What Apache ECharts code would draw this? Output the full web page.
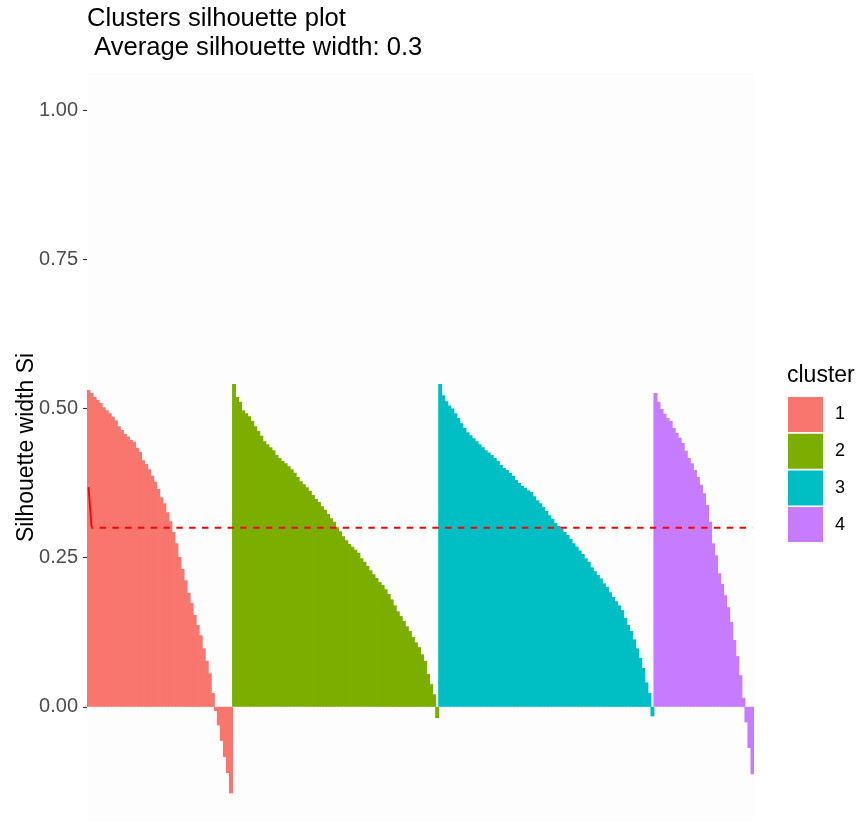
<!DOCTYPE html>
<html>
<head>
<meta charset="utf-8">
<script src="https://cdn.jsdelivr.net/npm/echarts@6/dist/echarts.min.js"></script>
<style>
html,body{margin:0;padding:0;background:#ffffff;}
#chart{width:861px;height:825px;}
</style>
</head>
<body>
<div id="chart"></div>
<script>
// Silhouette widths, sorted within each cluster
const cluster1 = [0.531,0.526,0.519,0.514,0.509,0.502,0.497,0.492,0.486,0.480,
  0.470,0.464,0.457,0.453,0.447,0.444,0.434,0.427,0.413,0.407,
  0.398,0.387,0.377,0.365,0.351,0.341,0.326,0.311,0.293,0.274,
  0.251,0.231,0.212,0.191,0.174,0.154,0.137,0.120,0.098,0.077,
  0.056,0.023,-0.007,-0.031,-0.057,-0.084,-0.111,-0.145];
const cluster2 = [0.541,0.519,0.511,0.497,0.492,0.487,0.479,0.470,0.462,0.454,
  0.445,0.440,0.435,0.430,0.422,0.417,0.412,0.408,0.403,0.398,
  0.392,0.385,0.378,0.373,0.368,0.362,0.355,0.348,0.343,0.336,
  0.330,0.323,0.316,0.310,0.301,0.294,0.286,0.279,0.273,0.268,
  0.263,0.258,0.249,0.243,0.236,0.229,0.222,0.216,0.209,0.204,
  0.197,0.189,0.180,0.170,0.160,0.152,0.144,0.135,0.127,0.117,
  0.108,0.100,0.088,0.077,0.055,0.038,0.021,-0.019];
const cluster3 = [0.541,0.522,0.512,0.505,0.500,0.492,0.484,0.475,0.467,0.460,
  0.455,0.450,0.445,0.440,0.435,0.430,0.426,0.422,0.417,0.412,
  0.405,0.400,0.397,0.392,0.387,0.380,0.375,0.370,0.367,0.363,
  0.360,0.353,0.346,0.341,0.335,0.328,0.321,0.315,0.308,0.303,
  0.298,0.293,0.288,0.281,0.274,0.268,0.262,0.256,0.249,0.243,
  0.234,0.227,0.221,0.215,0.207,0.201,0.192,0.184,0.177,0.170,
  0.162,0.149,0.137,0.127,0.113,0.098,0.082,0.065,0.041,0.023,
  -0.016];
const cluster4 = [0.526,0.511,0.499,0.491,0.484,0.479,0.467,0.459,0.451,0.442,
  0.429,0.417,0.408,0.397,0.385,0.372,0.358,0.338,0.310,0.274,
  0.254,0.224,0.206,0.187,0.167,0.142,0.112,0.085,0.053,0.015,
  -0.026,-0.069,-0.113];

const clusterNames = ['1', '2', '3', '4'];
const clusterColors = ['#F8766D', '#7CAE00', '#00BFC4', '#C77CFF'];
const averageWidth = 0.3;
const leadSegment = [0.368, 0.301];
const yTickValues = [0, 0.25, 0.5, 0.75, 1.0];
const yTickLabels = ['0.00', '0.25', '0.50', '0.75', '1.00'];
const titleText = 'Clusters silhouette plot\n Average silhouette width: 0.3';
const yAxisTitle = 'Silhouette width Si';
const legendTitle = 'cluster';

const clusters = [cluster1, cluster2, cluster3, cluster4];
const total = clusters.reduce((s, c) => s + c.length, 0);
const categories = [];
for (let i = 0; i < total; i++) categories.push(String(i + 1));

const FONT = "'Liberation Sans', Arial, Helvetica, sans-serif";

const barSeries = [];
let offset = 0;
clusters.forEach((vals, ci) => {
  const data = new Array(total).fill(null);
  vals.forEach((v, k) => { data[offset + k] = v; });
  offset += vals.length;
  barSeries.push({
    name: clusterNames[ci],
    type: 'bar',
    data: data,
    barWidth: 4,
    barGap: '-100%',
    itemStyle: { color: clusterColors[ci], borderWidth: 0 },
    silent: true
  });
});

const leadData = new Array(total).fill(null);
leadData[0] = leadSegment[0];
leadData[1] = leadSegment[1];
const avgData = new Array(total).fill(null);
for (let i = 1; i < total; i++) avgData[i] = averageWidth;

const chart = echarts.init(document.getElementById('chart'), null, { renderer: 'canvas' });
chart.setOption({
  animation: false,
  backgroundColor: '#ffffff',
  textStyle: { fontFamily: FONT },
  title: [
    {
      text: titleText,
      left: 87, top: 5, padding: 0,
      textStyle: { fontFamily: FONT, fontSize: 25.6, fontWeight: 'normal', color: '#000000', lineHeight: 28.4 }
    },
    {
      text: legendTitle,
      left: 787, top: 364, padding: 0,
      textStyle: { fontFamily: FONT, fontSize: 23, fontWeight: 'normal', color: '#000000', lineHeight: 23 }
    }
  ],
  legend: {
    data: clusterNames,
    orient: 'vertical',
    left: 788, top: 397,
    padding: 0,
    itemWidth: 35, itemHeight: 35, itemGap: 1.7,
    icon: 'rect',
    selectedMode: false,
    textStyle: { fontFamily: FONT, fontSize: 18, color: '#000000', padding: [7, 0, 0, 7] }
  },
  grid: {
    left: 87, right: 107, top: 73, bottom: 3,
    containLabel: false,
    outerBoundsMode: 'none',
    show: true, backgroundColor: '#FDFDFD', borderWidth: 0
  },
  xAxis: {
    type: 'category',
    data: categories,
    show: false,
    boundaryGap: true
  },
  yAxis: {
    type: 'value',
    min: -0.193, max: 1.062,
    name: yAxisTitle,
    nameLocation: 'middle',
    nameRotate: 90,
    nameGap: 49,
    nameMoveOverlap: false,
    nameTextStyle: { fontFamily: FONT, fontSize: 23, color: '#000000' },
    axisLine: { show: false },
    splitLine: { show: false },
    axisTick: { show: true, length: 4, customValues: yTickValues, lineStyle: { color: '#333333', width: 1.1 } },
    axisLabel: {
      customValues: yTickValues,
      formatter: function (v) {
        const i = yTickValues.findIndex(t => Math.abs(t - v) < 1e-9);
        return i >= 0 ? yTickLabels[i] : '';
      },
      color: '#4D4D4D', fontSize: 20, fontFamily: FONT, margin: 9
    }
  },
  series: barSeries.concat([
    {
      name: 'lead', type: 'line', data: leadData, symbol: 'none', silent: true, z: 5,
      lineStyle: { color: '#FF0000', width: 1.8 }
    },
    {
      name: 'average', type: 'line', data: avgData, symbol: 'none', silent: true, z: 5,
      lineStyle: { color: '#FF0000', width: 1.8, type: [6.4, 6.4], dashOffset: 4.8 }
    }
  ])
});
</script>
</body>
</html>
